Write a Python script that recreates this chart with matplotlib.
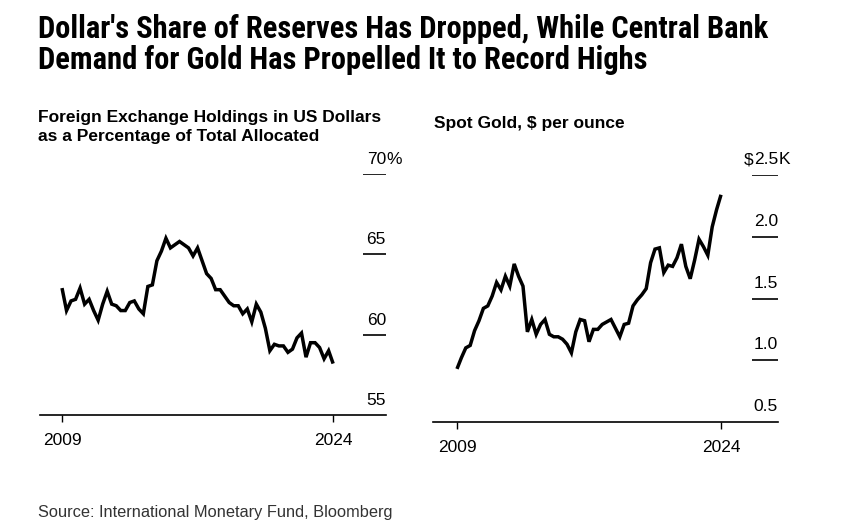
import matplotlib
matplotlib.use("Agg")
import matplotlib.pyplot as plt
from matplotlib import font_manager as fm
import matplotlib.transforms as mtransforms


def pick_font(names):
    for n in names:
        try:
            fm.findfont(n, fallback_to_default=False)
            return n
        except Exception:
            pass
    return "DejaVu Sans"


TITLE_FONT = pick_font(["Roboto Condensed", "DejaVu Sans Condensed", "Roboto"])
SUB_FONT = pick_font(["Liberation Sans", "Roboto"])
LABEL_FONT = pick_font(["Liberation Sans", "DejaVu Sans"])

# Quarterly, 2009 Q1 .. 2024 Q1
usd_share = [62.9, 61.5, 62.1, 62.2, 62.9, 61.9, 62.2, 61.5, 60.9, 61.9,
             62.7, 61.9, 61.8, 61.5, 61.5, 62.0, 62.1, 61.6, 61.3, 63.0,
             63.1, 64.6, 65.2, 66.0, 65.4, 65.6, 65.8, 65.6, 65.4, 64.9,
             65.4, 64.6, 63.8, 63.5, 62.8, 62.8, 62.4, 62.0, 61.8, 61.8,
             61.3, 61.6, 60.8, 61.9, 61.4, 60.4, 59.0, 59.4, 59.3, 59.3,
             58.9, 59.1, 59.8, 60.1, 58.6, 59.5, 59.5, 59.2, 58.5, 59.0,
             58.2]

# Spot gold, $ thousand per ounce, quarterly 2009 Q1 .. 2024 Q1
gold = [0.93, 1.02, 1.10, 1.12, 1.24, 1.32, 1.42, 1.44, 1.52, 1.63,
        1.57, 1.68, 1.60, 1.78, 1.68, 1.60, 1.23, 1.33, 1.21, 1.29,
        1.33, 1.21, 1.19, 1.19, 1.17, 1.13, 1.06, 1.23, 1.33, 1.32,
        1.15, 1.25, 1.25, 1.29, 1.31, 1.33, 1.26, 1.19, 1.29, 1.30,
        1.44, 1.49, 1.53, 1.58, 1.79, 1.90, 1.91, 1.71, 1.77, 1.76,
        1.83, 1.94, 1.76, 1.66, 1.81, 1.98, 1.92, 1.85, 2.08, 2.22,
        2.34]

x_ticks = [0, 60]
x_labels = ["2009", "2024"]

usd_ticks = [55, 60, 65, 70]
usd_labels = ["55", "60", "65", "70"]
gold_ticks = [0.5, 1.0, 1.5, 2.0, 2.5]
gold_labels = ["0.5", "1.0", "1.5", "2.0", "2.5"]

W, H = 862, 521
LBL = 12.5
fig = plt.figure(figsize=(W / 100, H / 100), dpi=100)


def px_axes(x0, y_top, x1, y_bot):
    return fig.add_axes([x0 / W, (H - y_bot) / H, (x1 - x0) / W, (y_bot - y_top) / H])


def style_panel(ax, values, ticks, labels, ylim, xlim, dash_frac, gap,
                prefix="", suffix=""):
    ax.plot(range(len(values)), values, color="black", lw=2.5,
            solid_joinstyle="miter", solid_capstyle="butt")
    ax.set_xlim(*xlim)
    ax.set_ylim(*ylim)
    for s in ["top", "right", "left"]:
        ax.spines[s].set_visible(False)
    ax.spines["bottom"].set_linewidth(1.2)
    ax.set_yticks([])
    ax.set_xticks(x_ticks)
    ax.set_xticklabels(x_labels, fontsize=LBL, family=LABEL_FONT)
    ax.tick_params(axis="x", length=5, width=1.0, pad=8, colors="black")
    trans = mtransforms.blended_transform_factory(ax.transAxes, ax.transData)
    off = mtransforms.offset_copy(trans, fig=fig, x=0, y=gap, units="dots")
    for i, (t, lab) in enumerate(zip(ticks, labels)):
        if i > 0:
            ax.hlines(t, 1 - dash_frac, 1.0, transform=trans, color="black", lw=1.2)
        txt = ax.text(1.0, t, lab, transform=off, ha="right", va="baseline",
                      fontsize=LBL, family=LABEL_FONT)
        if i == len(ticks) - 1:
            if suffix:
                ax.annotate(suffix, xy=(1, 0), xycoords=txt, xytext=(0.6, 0),
                            textcoords="offset points", ha="left", va="bottom",
                            fontsize=LBL, family=LABEL_FONT)
            if prefix:
                ax.annotate(prefix, xy=(0, 0), xycoords=txt, xytext=(0, 0),
                            textcoords="offset points", ha="right", va="bottom",
                            fontsize=LBL, family=LABEL_FONT)


# left panel: px 40..386, y 174..415
ax1 = px_axes(40, 174, 386, 415)
style_panel(ax1, usd_share, usd_ticks, usd_labels, (55, 70), (-4.87, 71.7),
            23 / 346, 10, suffix="%")

# right panel: px 433..778, y 175..422
ax2 = px_axes(433, 175, 778, 422)
style_panel(ax2, gold, gold_ticks, gold_labels, (0.5, 2.5), (-5.45, 72.95),
            26 / 345, 11, prefix="$", suffix="K")

# titles
fig.text(38 / W, 1 - 14 / H,
         "Dollar's Share of Reserves Has Dropped, While Central Bank\n"
         "Demand for Gold Has Propelled It to Record Highs",
         ha="left", va="top", fontsize=22, fontweight="bold", family=TITLE_FONT,
         linespacing=1.05)
fig.text(38 / W, 1 - 110 / H,
         "Foreign Exchange Holdings in US Dollars\nas a Percentage of Total Allocated",
         ha="left", va="top", fontsize=12.5, fontweight="bold", family=SUB_FONT,
         linespacing=1.3)
fig.text(434 / W, 1 - 116 / H, "Spot Gold, $ per ounce",
         ha="left", va="top", fontsize=12.5, fontweight="bold", family=SUB_FONT)
fig.text(38 / W, 1 - 505 / H, "Source: International Monetary Fund, Bloomberg",
         ha="left", va="top", fontsize=11.75, color="#333333", family=LABEL_FONT)

fig.savefig("out.png", dpi=100)
